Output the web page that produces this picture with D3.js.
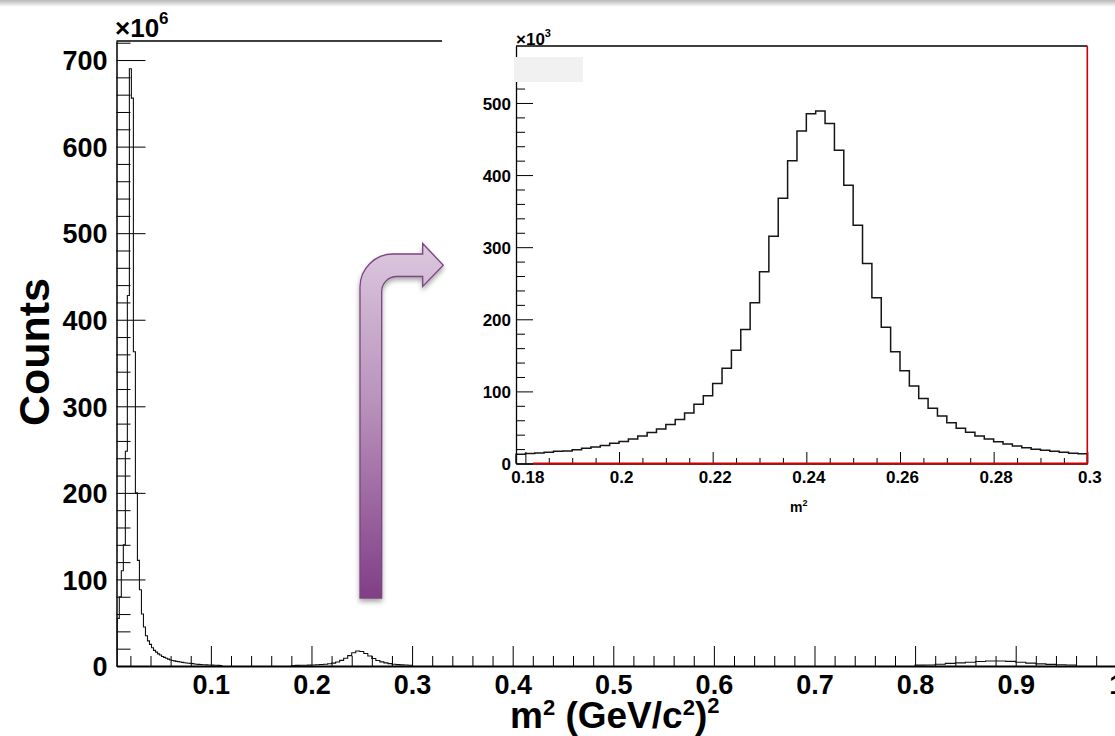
<!DOCTYPE html>
<html>
<head>
<meta charset="utf-8">
<script src="https://cdn.jsdelivr.net/npm/d3@7"></script>
<style>
  html, body { margin: 0; padding: 0; background: #fff; }
  svg { display: block; font-family: "Liberation Sans", Arial, Helvetica, sans-serif; }
  .ax .domain { stroke: #000; }
  .ax line { stroke: #000; stroke-width: 1; }
  .ax text { fill: #000; font-weight: bold; }
</style>
</head>
<body>
<svg id="chart" width="1115" height="736"></svg>
<script>
/* m^2 spectrum (x10^6 counts) with a zoomed inset on the 0.18-0.30 peak (x10^3) */

// ---- tick labels ----
var mainTicksX = [0.1, 0.2, 0.3, 0.4, 0.5, 0.6, 0.7, 0.8, 0.9, 1];
var mainTicksY = [0, 100, 200, 300, 400, 500, 600, 700];
var insetTicksX = [0.18, 0.2, 0.22, 0.24, 0.26, 0.28, 0.3];
var insetTicksY = [0, 100, 200, 300, 400, 500];

// ---- main histogram, counts x10^6, read per bin ----
var peakStart = 0.007, peakWidth = 0.002;
var peakCounts = [55, 80, 110, 140, 248, 428, 690, 656, 363, 200, 122, 88, 60, 45, 35, 29,
  25, 21, 18, 16, 14, 12.7, 11, 10, 9, 8, 7, 6.4, 5.9, 5.4, 5, 4.6, 4.2, 3.8, 3.5, 3.2,
  3.0, 2.7, 2.3, 2.1, 1.9, 1.7, 1.5, 1.4, 1.3, 1.2, 1.1, 1.0, 0.9, 0.8, 0.7, 0.6];

var bumpStart = 0.180, bumpWidth = 0.004;
var bumpCounts = [0.6, 0.7, 0.8, 0.9, 1.0, 1.2, 1.4, 1.7, 2.1, 2.6, 3.3, 4.6, 6.5, 9, 12,
  15.3, 17.3, 16.8, 14.5, 11.5, 8.6, 6.4, 4.8, 3.6, 2.7, 2.0, 1.6, 1.3, 1.1, 0.9];

var farStart = 0.80, farWidth = 0.01;
var farCounts = [1.0, 1.2, 2.0, 3.0, 3.6, 4.3, 5.2, 5.7, 5.8, 5.3, 4.3, 3.3, 2.5, 1.9, 1.5, 1.2];

// ---- inset histogram, counts x10^3 ----
var insetStart = 0.178, insetWidth = 0.002;
var insetCounts = [13, 14, 14.5, 15.5, 17, 17.5, 19, 21, 23, 25, 28, 30.5, 34, 38, 43, 48,
  54, 61, 70, 82, 94, 111, 132, 157, 186, 223, 266, 315, 368, 420, 461, 485, 489, 471.5,
  434.5, 386, 330.5, 277.5, 230, 189, 155, 128.6, 107.4, 90.3, 76.5, 65.8, 56.6, 48.8,
  43.2, 38.1, 34, 30.2, 27, 24.3, 22, 19.7, 18.3, 16.9, 15.5, 14.1, 13.6];

var svg = d3.select("#chart");
var defs = svg.append("defs");

// window shadow along the top edge
var tg = defs.append("linearGradient").attr("id", "topShade").attr("x1", 0).attr("y1", 0).attr("x2", 0).attr("y2", 1);
tg.append("stop").attr("offset", "0%").attr("stop-color", "#b8b8b8");
tg.append("stop").attr("offset", "100%").attr("stop-color", "#ffffff");
svg.append("rect").attr("x", 0).attr("y", 0).attr("width", 1115).attr("height", 7).attr("fill", "url(#topShade)");

// ---- main frame ----
var x = d3.scaleLinear().domain([0.0062, 1.0]).range([116.5, 1116.3]);
var y = d3.scaleLinear().domain([0, 722]).range([666, 41]);

function stepPoints(start, width, vals) {
  var pts = [[start, 0]];
  vals.forEach(function (v, i) {
    pts.push([start + i * width, v]);
    pts.push([start + (i + 1) * width, v]);
  });
  pts.push([start + vals.length * width, 0]);
  return pts;
}
function minorTicks(lo, hi, step, majors) {
  return d3.range(Math.round((hi - lo) / step) + 1).map(function (i) { return +(lo + i * step).toFixed(4); })
    .filter(function (v) { return majors.every(function (m) { return Math.abs(m - v) > 1e-6; }); });
}

// top frame line
svg.append("line").attr("x1", x.range()[0]).attr("x2", x.range()[1]).attr("y1", y(722)).attr("y2", y(722))
  .attr("stroke", "#000").attr("stroke-width", 1.3);

// y axis (ticks point inward)
svg.append("g").attr("class", "ax").attr("transform", "translate(" + x.range()[0] + ",0)")
  .call(d3.axisLeft(y).tickValues(minorTicks(0, 720, 20, mainTicksY)).tickSize(-14).tickSizeOuter(0).tickFormat(""))
  .select(".domain").remove();
var gy = svg.append("g").attr("class", "ax").attr("transform", "translate(" + x.range()[0] + ",0)")
  .call(d3.axisLeft(y).tickValues(mainTicksY).tickSize(-29).tickSizeOuter(0).tickPadding(9));
gy.select(".domain").attr("stroke-width", 1.5);
gy.selectAll("text").attr("font-size", 27).attr("dy", "0.36em");

// x axis
svg.append("g").attr("class", "ax").attr("transform", "translate(0," + y(0) + ")")
  .call(d3.axisBottom(x).tickValues(minorTicks(0.02, 1.0, 0.02, mainTicksX)).tickSize(-10).tickSizeOuter(0).tickFormat(""))
  .select(".domain").remove();
var gx = svg.append("g").attr("class", "ax").attr("transform", "translate(0," + y(0) + ")")
  .call(d3.axisBottom(x).tickValues(mainTicksX).tickSize(-20).tickSizeOuter(0).tickPadding(9).tickFormat(d3.format("~g")));
gx.select(".domain").attr("stroke-width", 2.2);
gx.selectAll("text").attr("font-size", 27);

// exponent + titles
var e6 = svg.append("text").attr("x", 115).attr("y", 37).attr("font-size", 26).attr("font-weight", "bold");
e6.append("tspan").text("×10");
e6.append("tspan").attr("font-size", 17).attr("dy", -13).text("6");

svg.append("text").attr("transform", "translate(34,352) rotate(-90)").attr("text-anchor", "middle")
  .attr("dominant-baseline", "central").attr("font-size", 43).attr("font-weight", "bold").text("Counts");

var xt = svg.append("text").attr("x", 510).attr("y", 728).attr("font-size", 37).attr("font-weight", "bold");
xt.append("tspan").text("m");
xt.append("tspan").attr("font-size", 22).attr("dy", -13).text("2");
xt.append("tspan").attr("dy", 13).text(" (GeV/c");
xt.append("tspan").attr("font-size", 22).attr("dy", -13).text("2");
xt.append("tspan").attr("dy", 13).text(")");
xt.append("tspan").attr("font-size", 22).attr("dy", -15).text("2");

// main histogram
var line = d3.line().x(function (d) { return x(d[0]); }).y(function (d) { return y(d[1]); });
[[peakStart, peakWidth, peakCounts], [bumpStart, bumpWidth, bumpCounts], [farStart, farWidth, farCounts]]
  .forEach(function (s) {
    svg.append("path").attr("d", line(stepPoints(s[0], s[1], s[2])))
      .attr("fill", "none").attr("stroke", "#111").attr("stroke-width", 1.1);
  });

// ---- inset (pasted picture on white) ----
svg.append("rect").attr("x", 442).attr("y", 8).attr("width", 673).attr("height", 514).attr("fill", "#fff");

var xi = d3.scaleLinear().domain([0.178, 0.3]).range([516, 1087.3]);
var yi = d3.scaleLinear().domain([0, 579]).range([463.5, 46]);

svg.append("line").attr("x1", xi.range()[0]).attr("x2", xi.range()[1]).attr("y1", yi(579)).attr("y2", yi(579))
  .attr("stroke", "#000").attr("stroke-width", 1.3);

svg.append("g").attr("class", "ax").attr("transform", "translate(" + xi.range()[0] + ",0)")
  .call(d3.axisLeft(yi).tickValues(minorTicks(0, 560, 20, insetTicksY)).tickSize(-9).tickSizeOuter(0).tickFormat(""))
  .select(".domain").remove();
var giy = svg.append("g").attr("class", "ax").attr("transform", "translate(" + xi.range()[0] + ",0)")
  .call(d3.axisLeft(yi).tickValues(insetTicksY).tickSize(-17).tickSizeOuter(0).tickPadding(5));
giy.select(".domain").attr("stroke-width", 1.3);
giy.selectAll("text").attr("font-size", 17).attr("dy", "0.36em");

svg.append("g").attr("class", "ax").attr("transform", "translate(0," + yi(0) + ")")
  .call(d3.axisBottom(xi).tickValues(minorTicks(0.18, 0.3, 0.005, insetTicksX)).tickSize(-5.5).tickSizeOuter(0).tickFormat(""))
  .select(".domain").remove();
var gix = svg.append("g").attr("class", "ax").attr("transform", "translate(0," + yi(0) + ")")
  .call(d3.axisBottom(xi).tickValues(insetTicksX).tickSize(-11.5).tickSizeOuter(0).tickPadding(7).tickFormat(d3.format("~g")));
gix.select(".domain").attr("stroke-width", 1.6);
gix.selectAll("text").attr("font-size", 17).attr("dx", 2);

var e3 = svg.append("text").attr("x", 516).attr("y", 45).attr("font-size", 17).attr("font-weight", "bold");
e3.append("tspan").text("×10");
e3.append("tspan").attr("font-size", 11).attr("dy", -8).text("3");

var it = svg.append("text").attr("x", 790).attr("y", 512).attr("font-size", 14).attr("font-weight", "bold");
it.append("tspan").text("m");
it.append("tspan").attr("font-size", 9).attr("dy", -6).text("2");

var linei = d3.line().x(function (d) { return xi(d[0]); }).y(function (d) { return yi(d[1]); });
svg.append("path").attr("d", linei(stepPoints(insetStart, insetWidth, insetCounts)))
  .attr("fill", "none").attr("stroke", "#151515").attr("stroke-width", 1.5);

// red frame pieces on the inset
svg.append("line").attr("x1", 533).attr("x2", xi.range()[1]).attr("y1", yi(0)).attr("y2", yi(0))
  .attr("stroke", "#d00000").attr("stroke-width", 2);
svg.append("line").attr("x1", xi.range()[1]).attr("x2", xi.range()[1]).attr("y1", yi(579)).attr("y2", yi(0))
  .attr("stroke", "#d00000").attr("stroke-width", 1.6);

// light grey patch top-left of the inset
svg.append("rect").attr("x", 514).attr("y", 57).attr("width", 69).attr("height", 25).attr("fill", "#f1f1f1");

// ---- bent arrow pointing into the inset ----
var arrow = { left: 360, right: 381.7, bottom: 598, barTop: 254, barBot: 276.5, rOut: 33, rIn: 15,
  headBack: 422.7, headTop: 243.5, headBot: 286.5, tip: 443.3 };
var ag = defs.append("linearGradient").attr("id", "arrowFill").attr("x1", 0).attr("y1", 0).attr("x2", 0).attr("y2", 1);
ag.append("stop").attr("offset", "0%").attr("stop-color", "#dcc8de");
ag.append("stop").attr("offset", "45%").attr("stop-color", "#b892bb");
ag.append("stop").attr("offset", "100%").attr("stop-color", "#813e86");
var sh = defs.append("filter").attr("id", "arrowShadow").attr("x", "-30%").attr("y", "-10%").attr("width", "160%").attr("height", "130%");
sh.append("feDropShadow").attr("dx", 0).attr("dy", 3).attr("stdDeviation", 2.5)
  .attr("flood-color", "#000").attr("flood-opacity", 0.35);

var p = d3.path(), a = arrow, hc = (a.barTop + a.barBot) / 2;
p.moveTo(a.left, a.bottom);
p.lineTo(a.left, a.barTop + a.rOut);
p.arcTo(a.left, a.barTop, a.left + a.rOut, a.barTop, a.rOut);
p.lineTo(a.headBack, a.barTop);
p.lineTo(a.headBack, a.headTop);
p.lineTo(a.tip, hc);
p.lineTo(a.headBack, a.headBot);
p.lineTo(a.headBack, a.barBot);
p.lineTo(a.right + a.rIn, a.barBot);
p.arcTo(a.right, a.barBot, a.right, a.barBot + a.rIn, a.rIn);
p.lineTo(a.right, a.bottom);
p.closePath();
svg.append("path").attr("d", p.toString()).attr("fill", "url(#arrowFill)")
  .attr("stroke", "#7a4680").attr("stroke-width", 1.3).attr("stroke-linejoin", "miter")
  .attr("filter", "url(#arrowShadow)");
</script>
</body>
</html>
